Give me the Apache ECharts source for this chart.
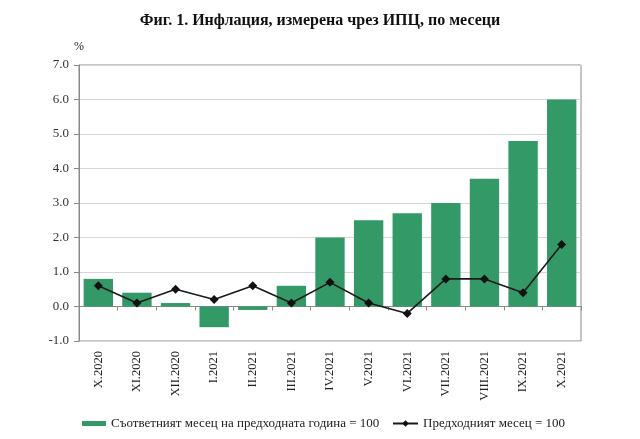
<!DOCTYPE html>
<html><head><meta charset="utf-8">
<script src="https://cdn.jsdelivr.net/npm/echarts@6/dist/echarts.min.js"></script>
<style>html,body{margin:0;padding:0;background:#fff}#c{width:640px;height:439px}</style>
</head><body><div id="c"></div>
<script>
const categories = ['X.2020','XI.2020','XII.2020','I.2021','II.2021','III.2021','IV.2021','V.2021','VI.2021','VII.2021','VIII.2021','IX.2021','X.2021'];
const yearOnYear = [0.8, 0.4, 0.1, -0.6, -0.1, 0.6, 2.0, 2.5, 2.7, 3.0, 3.7, 4.8, 6.0];
const monthOnMonth = [0.6, 0.1, 0.5, 0.2, 0.6, 0.1, 0.7, 0.1, -0.2, 0.8, 0.8, 0.4, 1.8];
const seriesNames = ['Съответният месец на предходната година = 100', 'Предходният месец = 100'];
const titleText = 'Фиг. 1. Инфлация, измерена чрез ИПЦ, по месеци';

const serif = '"Liberation Serif", "DejaVu Serif", serif';
const legendText = { fontFamily: serif, fontSize: 13, color: '#222' };
const chart = echarts.init(document.getElementById('c'));
chart.setOption({
  animation: false,
  textStyle: { fontFamily: serif },
  title: {
    text: titleText, left: 'center', top: 8,
    textStyle: { fontFamily: serif, fontWeight: 'bold', fontSize: 16, color: '#111' }
  },
  grid: { left: 79, right: 59, top: 65, bottom: 98, show: true, borderColor: '#8a8a8a', borderWidth: 1 },
  legend: [
    { left: 77, top: 412, itemWidth: 24, itemHeight: 5, textStyle: legendText,
      data: [{ name: seriesNames[0], icon: 'rect' }] },
    { left: 387, top: 412, itemWidth: 25, itemHeight: 8, textStyle: legendText,
      data: [{ name: seriesNames[1] }] }
  ],
  xAxis: {
    type: 'category', data: categories,
    axisLine: { onZero: true, lineStyle: { color: '#8a8a8a' } },
    axisTick: { show: true, length: 4, lineStyle: { color: '#8a8a8a' } },
    axisLabel: { rotate: 90, margin: 10, fontFamily: serif, fontSize: 12.5, color: '#222' }
  },
  yAxis: {
    type: 'value', min: -1, max: 7, interval: 1,
    name: '%', nameLocation: 'end', nameGap: 12,
    nameTextStyle: { fontFamily: serif, fontSize: 12, color: '#222', align: 'center' },
    axisLine: { show: true, lineStyle: { color: '#8a8a8a' } },
    axisTick: { show: true, length: 5, lineStyle: { color: '#8a8a8a' } },
    axisLabel: { fontFamily: serif, fontSize: 13, color: '#333', margin: 10, formatter: v => v.toFixed(1) },
    splitLine: { lineStyle: { color: '#d6d6d6' } }
  },
  series: [
    { name: seriesNames[0], type: 'bar', data: yearOnYear, barCategoryGap: '24%',
      itemStyle: { color: '#339966' } },
    { name: seriesNames[1], type: 'line', data: monthOnMonth, symbol: 'diamond', symbolSize: 9,
      lineStyle: { color: '#1a1a1a', width: 1.6 }, itemStyle: { color: '#111' } }
  ]
});
</script></body></html>
